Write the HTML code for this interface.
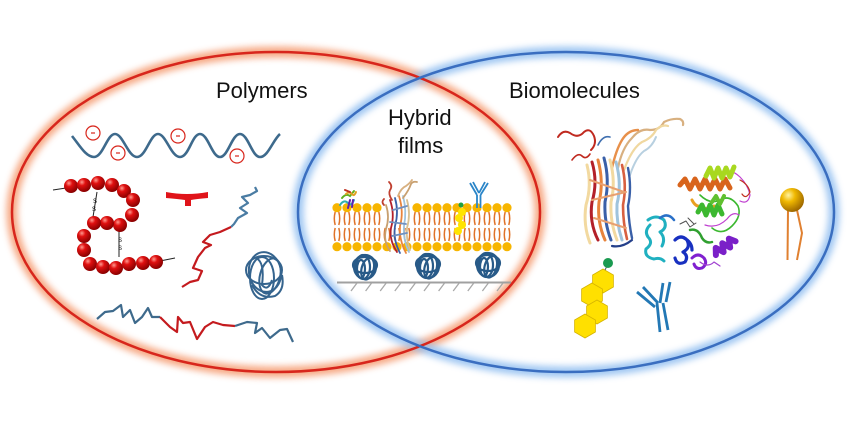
<!DOCTYPE html>
<html><head><meta charset="utf-8">
<style>
html,body{margin:0;padding:0;background:#fff;}
svg{display:block;}
text{font-family:"Liberation Sans",sans-serif;fill:#111;}
</style></head><body>
<svg width="847" height="436" viewBox="0 0 847 436" xmlns="http://www.w3.org/2000/svg">
<defs>
<filter id="glow" x="-10%" y="-10%" width="120%" height="120%"><feGaussianBlur stdDeviation="3.5"/></filter>
<radialGradient id="bead" cx="35%" cy="30%" r="70%">
 <stop offset="0" stop-color="#ff9a90"/>
 <stop offset="0.35" stop-color="#e01010"/>
 <stop offset="1" stop-color="#8a0000"/>
</radialGradient>
<radialGradient id="gold" cx="35%" cy="30%" r="70%">
 <stop offset="0" stop-color="#fff3a0"/>
 <stop offset="0.4" stop-color="#f0b800"/>
 <stop offset="1" stop-color="#a06a00"/>
</radialGradient>
<pattern id="upper" patternUnits="userSpaceOnUse" x="332" y="200" width="10" height="30">
 <path d="M3.2 12 q-1.8 6.5 0 13 M6.8 12 q1.8 6.5 0 13" fill="none" stroke="#e07228" stroke-width="1.5"/>
 <circle cx="5" cy="7.7" r="4.6" fill="#f7b500"/>
</pattern>
<pattern id="lower" patternUnits="userSpaceOnUse" x="332" y="226" width="10" height="26">
 <path d="M3.2 2 q-1.8 6.5 0 13 M6.8 2 q1.8 6.5 0 13" fill="none" stroke="#e07228" stroke-width="1.5"/>
 <circle cx="5" cy="20.7" r="4.6" fill="#f7b500"/>
</pattern>
</defs>

<!-- ellipse glows -->
<ellipse cx="276" cy="212" rx="264" ry="160" fill="none" stroke="#f59a6e" stroke-width="11" filter="url(#glow)" opacity="0.85"/>
<ellipse cx="566" cy="212" rx="268" ry="160" fill="none" stroke="#8fbdf0" stroke-width="11" filter="url(#glow)" opacity="0.85"/>
<ellipse cx="276" cy="212" rx="264" ry="160" fill="none" stroke="#d8261c" stroke-width="2.5"/>
<ellipse cx="566" cy="212" rx="268" ry="160" fill="none" stroke="#3a6ec0" stroke-width="2.5"/>

<!-- labels -->
<text x="216" y="98" font-size="22">Polymers</text>
<text x="509" y="98" font-size="22">Biomolecules</text>
<text x="388" y="125" font-size="22">Hybrid</text>
<text x="398" y="153" font-size="22">films</text>

<!-- ===== POLYMERS ===== -->
<path d="M72 136 C80 146 86 157 94 157 C103 157 107 134 115 134 C123 134 128 157 137 157 C146 157 150 134 158 134 C166 134 171 157 180 157 C189 157 192 134 200 134 C208 134 212 157 220 157 C228 157 232 134 240 134 C248 134 252 157 260 157 C268 157 273 140 280 134" fill="none" stroke="#3e6a8c" stroke-width="2.6"/>
<g fill="none" stroke="#d8261c" stroke-width="1.2">
 <circle cx="93" cy="133" r="7"/><circle cx="118" cy="153" r="7"/><circle cx="178" cy="136" r="7"/><circle cx="237" cy="156" r="7"/>
</g>
<g stroke="#d8261c" stroke-width="1.2">
 <line x1="91" y1="133" x2="95" y2="133"/><line x1="116" y1="153" x2="120" y2="153"/><line x1="176" y1="136" x2="180" y2="136"/><line x1="235" y1="156" x2="239" y2="156"/>
</g>

<!-- bead chain -->
<g stroke="#222" stroke-width="1">
 <line x1="53" y1="190" x2="66" y2="188"/>
 <line x1="160" y1="261" x2="175" y2="258"/>
 <line x1="97" y1="192" x2="93" y2="217"/>
 <line x1="119" y1="231" x2="119" y2="257"/>
</g>
<text x="93" y="203" font-size="6">S</text><text x="92" y="211" font-size="6">S</text>
<text x="118" y="242" font-size="6">S</text><text x="118" y="250" font-size="6">S</text>
<g fill="url(#bead)">
 <circle cx="71" cy="186" r="7"/><circle cx="84" cy="185" r="7"/><circle cx="98" cy="183" r="7"/><circle cx="112" cy="185" r="7"/>
 <circle cx="124" cy="191" r="7"/><circle cx="133" cy="200" r="7"/><circle cx="132" cy="215" r="7"/>
 <circle cx="120" cy="225" r="7"/><circle cx="107" cy="223" r="7"/><circle cx="94" cy="223" r="7"/>
 <circle cx="84" cy="236" r="7"/><circle cx="84" cy="250" r="7"/>
 <circle cx="90" cy="264" r="7"/><circle cx="103" cy="267" r="7"/><circle cx="116" cy="268" r="7"/>
 <circle cx="129" cy="264" r="7"/><circle cx="143" cy="263" r="7"/><circle cx="156" cy="262" r="7"/>
</g>

<!-- red T -->
<path d="M166 192 Q187 196 208 192 L208 198 Q196 199 191 200 L191 206 L185 206 L185 200 Q178 199 166 198 Z" fill="#e0141a"/>

<!-- curly chain -->
<polyline points="255,187 257,191 250,195 242,197 248,203 240,208 247,213 238,218 234,224 231,227" fill="none" stroke="#4a7ca3" stroke-width="2.2" stroke-linejoin="round"/>
<polyline points="231,227 220,232 210,235 203,242 211,245 205,248 198,257 193,268 202,271 198,280 190,282 182,287" fill="none" stroke="#c41a1e" stroke-width="2.2" stroke-linejoin="round"/>

<!-- tangle -->
<g fill="none" stroke="#35648e" stroke-width="2">
 <ellipse cx="265" cy="272" rx="16" ry="20" transform="rotate(-10 265 272)"/>
 <ellipse cx="262" cy="278" rx="12" ry="21"/>
 <ellipse cx="270" cy="276" rx="10" ry="18" transform="rotate(15 270 276)"/>
 <ellipse cx="264" cy="270" rx="18" ry="14"/>
 <path d="M252 285 Q260 300 275 296 Q285 290 282 275"/>
 <path d="M256 258 Q265 262 262 285 Q268 292 272 280"/>
</g>

<!-- bottom chain -->
<polyline points="97,319 105,312 113,311 121,305 123,317 130,310 135,323 142,317 148,308 152,317 160,317" fill="none" stroke="#3e6a8c" stroke-width="2.2" stroke-linejoin="round"/>
<polyline points="160,317 170,327 177,332 178,317 183,323 190,322 197,339 205,327 213,322 223,325 235,326" fill="none" stroke="#c41a1e" stroke-width="2.2" stroke-linejoin="round"/>
<polyline points="235,326 247,322 257,323 255,333 262,328 270,338 280,330 287,329 293,342" fill="none" stroke="#3e6a8c" stroke-width="2.2" stroke-linejoin="round"/>

<!-- ===== HYBRID FILM ===== -->
<line x1="337" y1="282.5" x2="511" y2="282.5" stroke="#a0a0a0" stroke-width="2"/>
<g stroke="#a8a8a8" stroke-width="1.3">
 <line x1="357" y1="283" x2="351" y2="291"/><line x1="371.6" y1="283" x2="365.6" y2="291"/><line x1="386.2" y1="283" x2="380.2" y2="291"/>
 <line x1="400.8" y1="283" x2="394.8" y2="291"/><line x1="415.4" y1="283" x2="409.4" y2="291"/><line x1="430" y1="283" x2="424" y2="291"/>
 <line x1="444.6" y1="283" x2="438.6" y2="291"/><line x1="459.2" y1="283" x2="453.2" y2="291"/><line x1="473.8" y1="283" x2="467.8" y2="291"/>
 <line x1="488.4" y1="283" x2="482.4" y2="291"/><line x1="503" y1="283" x2="497" y2="291"/>
</g>
<g fill="none" stroke="#285a88" stroke-width="2.2">
 <g transform="translate(365 267)">
  <ellipse rx="11" ry="12"/><ellipse cx="-2" rx="7" ry="12"/><ellipse cx="3" cy="1" rx="6" ry="11" transform="rotate(15)"/><ellipse cy="-2" rx="12" ry="8"/><ellipse cx="-4" cy="2" rx="4" ry="9"/>
 </g>
 <g transform="translate(428 266)">
  <ellipse rx="11" ry="12"/><ellipse cx="-2" rx="7" ry="12"/><ellipse cx="3" cy="1" rx="6" ry="11" transform="rotate(15)"/><ellipse cy="-2" rx="12" ry="8"/><ellipse cx="-4" cy="2" rx="4" ry="9"/>
 </g>
 <g transform="translate(488 265)">
  <ellipse rx="11" ry="12"/><ellipse cx="-2" rx="7" ry="12"/><ellipse cx="3" cy="1" rx="6" ry="11" transform="rotate(15)"/><ellipse cy="-2" rx="12" ry="8"/><ellipse cx="-4" cy="2" rx="4" ry="9"/>
 </g>
</g>
<rect x="332" y="200" width="50" height="30" fill="url(#upper)"/>
<rect x="412" y="200" width="100" height="30" fill="url(#upper)"/>
<rect x="332" y="226" width="180" height="26" fill="url(#lower)"/>

<!-- membrane barrel protein -->
<g fill="none" stroke-width="1.8" stroke-linecap="round">
 <path d="M386 205 q4 12 0 24 q-3 12 4 22" stroke="#c8a070"/>
 <path d="M390 200 q5 14 1 28 q-2 12 6 24" stroke="#b3202a"/>
 <path d="M395 198 q4 14 0 28 q-2 14 5 27" stroke="#3a60a8"/>
 <path d="M399 196 q5 16 1 30 q-1 14 6 27" stroke="#e8843c"/>
 <path d="M403 196 q4 15 1 30 q-1 14 5 26" stroke="#9fc3dc"/>
 <path d="M407 200 q4 14 0 28 q-1 12 3 22" stroke="#d8c090"/>
 <path d="M393 210 l14 -4 M390 222 l16 2 M392 236 l15 -3" stroke="#7090c0"/>
 <path d="M392 200 q-4 -6 -2 -10 q3 -4 -1 -8" stroke="#c04030"/>
 <path d="M398 196 q3 -8 8 -10 q4 -3 6 -6" stroke="#d8b080"/>
 <path d="M403 198 q6 -8 8 -14 q2 -3 6 -2" stroke="#c8a070"/>
 <path d="M384 205 q-3 -3 0 -6" stroke="#c04030"/>
</g>
<g fill="none" stroke-width="2" stroke-linecap="round">
 <path d="M340 205 q4 -6 8 -2 q3 4 6 -3" stroke="#30b0b0"/>
 <path d="M342 198 q4 -5 8 -2 l4 -5" stroke="#60b020"/>
 <path d="M346 194 q3 -3 6 0 q2 3 4 -2" stroke="#e0a020"/>
 <path d="M348 208 l2 -8 M352 207 l1 -7" stroke="#6020b0"/>
 <path d="M345 190 l5 2" stroke="#c03020"/>
</g>
<g stroke="#2a85c8" stroke-width="1.8" fill="none">
 <path d="M477 195 L477 208 M480.5 195 L480.5 208"/>
 <path d="M477 195 L470 183 M479 193 L473 182"/>
 <path d="M480.5 195 L488 183 M479 193 L485 182"/>
</g>
<g fill="#ffe400">
 <circle cx="462" cy="212" r="4"/><circle cx="459" cy="218" r="4"/><circle cx="462" cy="225" r="4"/><circle cx="458" cy="231" r="4"/>
</g>
<circle cx="461" cy="205" r="2.5" fill="#20a040"/>

<!-- ===== BIOMOLECULES ===== -->
<g fill="none" stroke-linecap="round" stroke-linejoin="round">
 <path d="M558 137 q5 -8 12 -4 q8 6 14 -1 q6 -5 10 4 q3 8 -3 14" stroke="#c02a20" stroke-width="2"/>
 <path d="M572 160 q6 -8 10 -4 q4 4 8 -2" stroke="#c02a20" stroke-width="1.6"/>
 <path d="M598 145 q5 -10 12 -8" stroke="#4070b0" stroke-width="1.6"/>
 <path d="M618 168 q4 -20 14 -30 q8 -10 18 -8 q10 0 14 -8 q8 -4 16 -3 q4 2 3 6" stroke="#d8b080" stroke-width="2.2"/>
 <path d="M624 170 q8 -22 18 -28 q10 -4 14 -12 q6 -6 12 -4" stroke="#f0d8a0" stroke-width="2.2"/>
 <path d="M612 168 q4 -18 10 -28 q6 -10 16 -10" stroke="#e8904a" stroke-width="2.4"/>
 <path d="M630 175 q6 -18 14 -24 q8 -4 12 -14" stroke="#b8d0e0" stroke-width="2"/>
 <path d="M587 165 q5 20 -1 40 q-3 20 4 38" stroke="#f2d9a0" stroke-width="3"/>
 <path d="M592 162 q6 20 0 40 q-3 20 6 38" stroke="#b3202a" stroke-width="3"/>
 <path d="M598 160 q6 22 1 42 q-2 20 6 38" stroke="#e8843c" stroke-width="3"/>
 <path d="M604 158 q6 22 1 44 q-1 20 6 38" stroke="#3a60a8" stroke-width="3"/>
 <path d="M610 160 q6 22 1 42 q-1 20 6 38" stroke="#f2d9a0" stroke-width="3"/>
 <path d="M616 162 q6 22 1 42 q-1 18 5 36" stroke="#9fc3dc" stroke-width="3"/>
 <path d="M622 165 q5 20 1 40 q0 18 4 34" stroke="#d86040" stroke-width="2.6"/>
 <path d="M628 168 q4 20 0 38 q1 18 4 32" stroke="#3a60a8" stroke-width="2.4"/>
 <path d="M590 180 l34 12 M592 200 l34 -8 M594 218 l32 10" stroke="#e8a070" stroke-width="2"/>
 <path d="M612 246 q10 2 20 -6" stroke="#25408a" stroke-width="2.2"/>
</g>

<g fill="none" stroke-linecap="round" stroke-linejoin="round">
 <path d="M700 195 q10 10 20 5 q10 -6 18 6 q4 10 -6 20 q-10 10 -20 2" stroke="#3cb830" stroke-width="1.6"/>
 <path d="M720 175 q10 -8 20 2 q8 8 10 18 q-2 10 -10 6" stroke="#c040d0" stroke-width="1.2"/>
 <path d="M740 180 q8 4 10 12 q-4 8 -8 2" stroke="#c03020" stroke-width="1.2"/>
 <path d="M705 225 q12 4 22 -6 q6 -8 12 -4" stroke="#c040d0" stroke-width="1.2"/>
 <path d="M680 185 l5 -6 l5 10 l5 -10 l5 10 l5 -10 l5 10 l5 -10 l5 10 l5 -10 l5 9" stroke="#d8641c" stroke-width="5"/>
 <path d="M706 176 l4 -8 l4 10 l4 -10 l4 10 l4 -10 l4 9 l4 -10" stroke="#a8d820" stroke-width="5"/>
 <path d="M692 200 q4 8 10 6 q6 6 12 0" stroke="#e8a020" stroke-width="3"/>
 <path d="M698 212 l4 -7 l4 10 l4 -10 l4 10 l4 -10 l4 9" stroke="#3cb830" stroke-width="5"/>
 <path d="M712 202 l4 -6 l4 8 l4 -8" stroke="#60c030" stroke-width="4"/>
 <path d="M680 224 l6 -3 l4 6 l6 -4 M688 218 l6 6" stroke="#505050" stroke-width="1"/>
 <path d="M650 225 q-6 6 -2 12 q6 6 -2 12 q-2 8 8 10 q6 -2 10 2 M648 220 q8 -6 16 0 q4 8 -4 12 q6 6 2 14" stroke="#20b0c0" stroke-width="3"/>
 <path d="M660 218 q8 -6 14 2" stroke="#2a70c8" stroke-width="2.5"/>
 <path d="M675 240 q6 -6 12 0 q4 8 -4 12 q6 4 2 10 q-8 4 -10 -4 M684 238 q8 4 8 12" stroke="#1830c0" stroke-width="3.2"/>
 <path d="M690 230 q8 -2 12 8 q4 6 10 4" stroke="#30a030" stroke-width="2.5"/>
 <path d="M708 250 l4 -6 l4 8 l4 -8 l4 8 l4 -8 l4 6" stroke="#7a20c8" stroke-width="6" transform="rotate(-35 720 240)"/>
 <path d="M692 258 q6 -6 12 0 q4 6 -2 10 q-6 2 -8 -4" stroke="#8020d0" stroke-width="3"/>
 <path d="M700 262 q8 6 14 0 l6 4" stroke="#a040d0" stroke-width="1.2"/>
</g>

<g fill="none" stroke="#e08030" stroke-width="2">
 <path d="M788 210 L787.5 260"/>
 <path d="M797 210 L802 233 L797 260"/>
</g>
<circle cx="792" cy="200" r="12" fill="url(#gold)"/>

<g fill="#ffe000" stroke="#d6b400" stroke-width="0.8">
 <polygon transform="translate(603 281)" points="0,-12 10.4,-6 10.4,6 0,12 -10.4,6 -10.4,-6"/>
 <polygon transform="translate(592 295)" points="0,-12 10.4,-6 10.4,6 0,12 -10.4,6 -10.4,-6"/>
 <polygon transform="translate(597 312)" points="0,-12 10.4,-6 10.4,6 0,12 -10.4,6 -10.4,-6"/>
 <polygon transform="translate(585 326)" points="0,-12 10.4,-6 10.4,6 0,12 -10.4,6 -10.4,-6"/>
</g>
<line x1="607" y1="266" x2="605" y2="270" stroke="#555" stroke-width="1"/>
<circle cx="608" cy="263" r="5" fill="#1a9a50"/>

<g stroke="#2378b5" stroke-width="2.8" fill="none" stroke-linecap="butt">
 <path d="M657 303 L660 332 M663 303 L668 330"/>
 <path d="M637 292 L655 307 M643 287 L658 303"/>
 <path d="M663 283 L660 303 M670 282 L666 302"/>
</g>
</svg>
</body></html>
